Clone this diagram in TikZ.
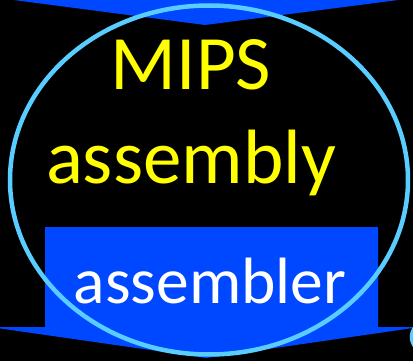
\documentclass[tikz,border=0pt]{standalone}
\usepackage{fontspec}
\setmainfont{Carlito}
\definecolor{arrowblue}{RGB}{0,72,255}
\definecolor{ringblue}{RGB}{89,205,255}
\definecolor{txtyellow}{RGB}{255,255,0}
\tikzset{
  arrowshape/.style={fill=arrowblue, draw=none},
  ring/.style={draw=ringblue, line width=4.5pt},
  bigtext/.style={text=txtyellow, inner sep=0pt, anchor=base, font=\fontsize{77}{80}\selectfont},
  boxtext/.style={text=white, inner sep=0pt, anchor=base, font=\fontsize{65.5}{68}\selectfont}
}
\begin{document}
\begin{tikzpicture}[x=1pt,y=-1pt]
\fill[black] (0,0) rectangle (413,361);
\useasboundingbox (0,0) rectangle (413,361);
\clip (0,0) rectangle (413,361);
% top arrow tip
\path[arrowshape] (6,-1) -- (406,-1) -- (205,25) -- cycle;
% bottom arrow
\path[arrowshape] (45,227) -- (378,227) -- (378,327) -- (420,327) -- (206,358) -- (-10,327) -- (45,327) -- cycle;
% ellipse
\draw[ring] (209,180) ellipse [x radius=199, y radius=174.5];
\draw[ring] (427,337) circle [radius=15];
% texts
\node[bigtext] (mips) at (191,90) {MIPS};
\node[bigtext] (asm) at (191,183) {assembly};
\node[boxtext] (asmr) at (210,303) {assembler};
\end{tikzpicture}
\end{document}
